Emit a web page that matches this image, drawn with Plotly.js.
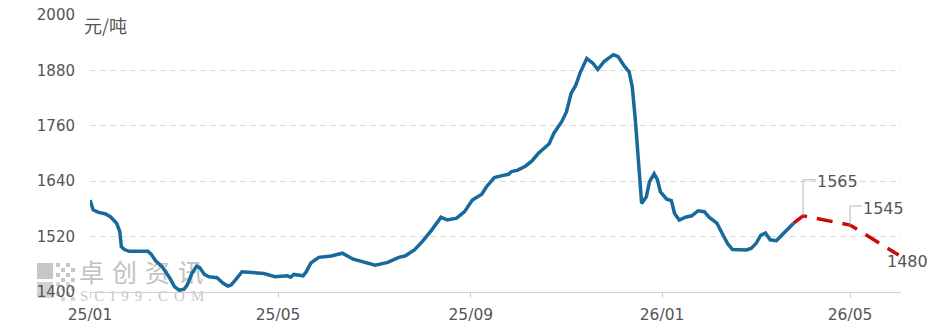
<!DOCTYPE html>
<html>
<head>
<meta charset="utf-8">
<script src="https://cdn.plot.ly/plotly-3.0.1.min.js"></script>
<style>
  html, body { margin: 0; padding: 0; background: #ffffff; }
  #wrap { position: relative; width: 935px; height: 336px; }
  #wm { position: absolute; left: 0; top: 0; width: 935px; height: 336px; z-index: 0; }
  #chart { position: absolute; left: 0; top: 0; width: 935px; height: 336px; z-index: 1; }
</style>
</head>
<body>
<div id="wrap">
  <svg id="wm" width="935" height="336" xmlns="http://www.w3.org/2000/svg"></svg>
  <div id="chart"></div>
</div>
<script>
// ---- data ----
const actualDates = [
  '2025-01-01','2025-01-03','2025-01-06','2025-01-11','2025-01-14','2025-01-18','2025-01-20','2025-01-21',
  '2025-01-23','2025-01-26','2025-02-07','2025-02-09','2025-02-12','2025-02-16','2025-02-21','2025-02-24',
  '2025-02-27','2025-03-02','2025-03-04','2025-03-07','2025-03-10','2025-03-12','2025-03-15','2025-03-18',
  '2025-03-23','2025-03-27','2025-03-30','2025-04-01','2025-04-04','2025-04-08','2025-04-12','2025-04-22',
  '2025-04-29','2025-05-05','2025-05-07','2025-05-09','2025-05-11','2025-05-17','2025-05-19','2025-05-22',
  '2025-05-27','2025-06-04','2025-06-11','2025-06-18','2025-06-24','2025-07-02','2025-07-10','2025-07-17',
  '2025-07-21','2025-07-27','2025-08-01','2025-08-07','2025-08-13','2025-08-17','2025-08-23','2025-08-28',
  '2025-09-02','2025-09-03','2025-09-08','2025-09-11','2025-09-16','2025-09-21','2025-09-25','2025-09-27',
  '2025-10-01','2025-10-06','2025-10-10','2025-10-14','2025-10-18','2025-10-21','2025-10-24','2025-10-29',
  '2025-11-01','2025-11-04','2025-11-07','2025-11-10','2025-11-14','2025-11-18','2025-11-21','2025-11-25',
  '2025-12-01','2025-12-04','2025-12-08','2025-12-11','2025-12-13','2025-12-15','2025-12-19','2025-12-22',
  '2025-12-24','2025-12-27','2025-12-29','2025-12-31','2026-01-04','2026-01-07','2026-01-09','2026-01-12',
  '2026-01-16','2026-01-20','2026-01-24','2026-01-28','2026-01-31','2026-02-05','2026-02-09','2026-02-12',
  '2026-02-15','2026-02-24','2026-02-27','2026-03-02','2026-03-05','2026-03-08','2026-03-11','2026-03-15',
  '2026-03-19','2026-03-23','2026-03-26'
];
const actualValues = [
  1599,1578,1573,1569,1563,1549,1531,1498,
  1492,1488,1488,1482,1467,1455,1430,1411,
  1404,1406,1415,1440,1456,1453,1438,1433,
  1431,1419,1413,1415,1427,1444,1443,1440,
  1433,1435,1435,1432,1438,1435,1444,1463,
  1475,1478,1484,1471,1466,1458,1464,1475,
  1478,1491,1509,1534,1562,1556,1560,1574,
  1599,1601,1612,1628,1648,1652,1655,1661,
  1664,1673,1684,1700,1713,1721,1744,1769,
  1790,1830,1848,1877,1906,1895,1882,1899,
  1914,1910,1889,1877,1845,1772,1592,1606,
  1639,1656,1644,1617,1601,1598,1570,1556,
  1562,1565,1576,1574,1562,1549,1523,1504,
  1492,1491,1495,1505,1523,1528,1513,1511,
  1525,1539,1549
];
const forecastDates = ['2026-04-01','2026-05-01','2026-06-01'];
const forecastValues = [1565,1545,1480];

const xTickVals = ['2025-01-01','2025-05-01','2025-09-01','2026-01-01','2026-05-01'];
const xTickText = ['25/01','25/05','25/09','26/01','26/05'];
const yTickVals = [1400,1520,1640,1760,1880,2000];
const unitLabel = '元/吨';
const watermarkCn = '卓创资讯';
const watermarkEn = 'SCI99.COM';

// ---- styles ----
const blue = '#176a9a';
const red = '#cc0a0a';
const textGray = '#555555';
const gridGray = '#d9d9d9';
// per-label leader geometry (pixels)
const labelStyle = [
  {rise: 36, run: 13, dx: 13, dy: 34, leader: true},
  {rise: 19, run: 12, dx: 12, dy: 17, leader: true},
  {rise: 0, run: 0, dx: -13, dy: -6, leader: false}
];

// ---- watermark (underlay) ----
(function () {
  const ns = 'http://www.w3.org/2000/svg';
  const svg = document.getElementById('wm');
  function rect(x, y, w, h, fill) {
    const r = document.createElementNS(ns, 'rect');
    r.setAttribute('x', x); r.setAttribute('y', y);
    r.setAttribute('width', w); r.setAttribute('height', h);
    r.setAttribute('fill', fill);
    svg.appendChild(r);
  }
  rect(37, 263, 16, 16, '#c6c6c6');
  rect(37, 282, 16, 16, '#d2d2d2');
  for (let i = 0; i < 4; i++) {
    for (let j = 0; j < 4; j++) {
      if ((i + j) % 2 === 0) {
        rect(56 + 5 * i, 263 + 5 * j, 4, 4, '#c6c6c6');
        rect(56 + 5 * i, 282 + 5 * j, 4, 4, '#d6d6d6');
      }
    }
  }
  function text(str, x, y, size, family, fill, ls) {
    const t = document.createElementNS(ns, 'text');
    t.setAttribute('x', x); t.setAttribute('y', y);
    t.setAttribute('font-size', size);
    t.setAttribute('font-family', family);
    t.setAttribute('fill', fill);
    t.setAttribute('letter-spacing', ls);
    t.textContent = str;
    svg.appendChild(t);
  }
  text(watermarkCn, 79, 282, 25, 'Noto Sans CJK SC', '#c2c2c2', 8);
  text(watermarkEn, 80, 301, 15, 'Liberation Serif', '#c8c8c8', 6);
})();

// ---- traces ----
const lastIdx = actualDates.length - 1;
const traces = [
  {
    x: actualDates, y: actualValues, type: 'scatter', mode: 'lines',
    line: {color: blue, width: 3.5}, hoverinfo: 'skip', showlegend: false
  },
  {
    x: [actualDates[lastIdx]].concat(forecastDates),
    y: [actualValues[lastIdx]].concat(forecastValues),
    type: 'scatter', mode: 'lines',
    line: {color: red, width: 3.5, dash: '16px,10px'}, hoverinfo: 'skip', showlegend: false
  }
];

const annotations = [{
  text: unitLabel, xref: 'paper', yref: 'paper', x: 0, y: 1,
  xanchor: 'left', yanchor: 'middle', xshift: -8, yshift: -10, showarrow: false,
  font: {family: 'Noto Sans CJK SC', size: 18, color: textGray}
}];
const shapes = [];
forecastDates.forEach(function (d, i) {
  const s = labelStyle[i];
  annotations.push({
    text: String(forecastValues[i]), x: d, y: forecastValues[i], xref: 'x', yref: 'y',
    xanchor: 'left', yanchor: 'middle', xshift: s.dx, yshift: s.dy, showarrow: false,
    borderpad: 0,
    font: {family: 'DejaVu Sans', size: 16, color: textGray}
  });
  if (s.leader) {
    shapes.push({
      type: 'path', xref: 'x', yref: 'y', xsizemode: 'pixel', ysizemode: 'pixel',
      xanchor: d, yanchor: forecastValues[i],
      path: 'M0,0 L0,' + s.rise + ' L' + s.run + ',' + s.rise,
      line: {color: '#b5b5b5', width: 1}
    });
  }
});

const layout = {
  width: 935, height: 336,
  margin: {l: 90, r: 34, t: 15, b: 44, pad: 0},
  paper_bgcolor: 'rgba(0,0,0,0)', plot_bgcolor: 'rgba(0,0,0,0)',
  font: {family: 'DejaVu Sans', size: 15, color: textGray},
  xaxis: {
    type: 'date', range: ['2025-01-01', '2026-06-02 12:00'],
    tickmode: 'array', tickvals: xTickVals, ticktext: xTickText,
    showgrid: false, zeroline: false,
    showline: true, linecolor: '#d0d0d0', linewidth: 1,
    ticks: 'outside', ticklen: 5, tickcolor: '#d0d0d0', tickwidth: 1,
    ticklabelstandoff: 3,
    tickfont: {family: 'DejaVu Sans', size: 15.5, color: textGray},
    fixedrange: true
  },
  yaxis: {
    range: [1400, 2000], tickmode: 'array', tickvals: yTickVals,
    showgrid: true, gridcolor: gridGray, gridwidth: 1, griddash: '6px,4px',
    zeroline: false, showline: false, ticks: '',
    ticklabelstandoff: 14,
    tickfont: {family: 'DejaVu Sans', size: 15, color: textGray},
    fixedrange: true
  },
  annotations: annotations,
  shapes: shapes,
  showlegend: false
};

Plotly.newPlot('chart', traces, layout, {displayModeBar: false, staticPlot: true});
</script>
</body>
</html>
